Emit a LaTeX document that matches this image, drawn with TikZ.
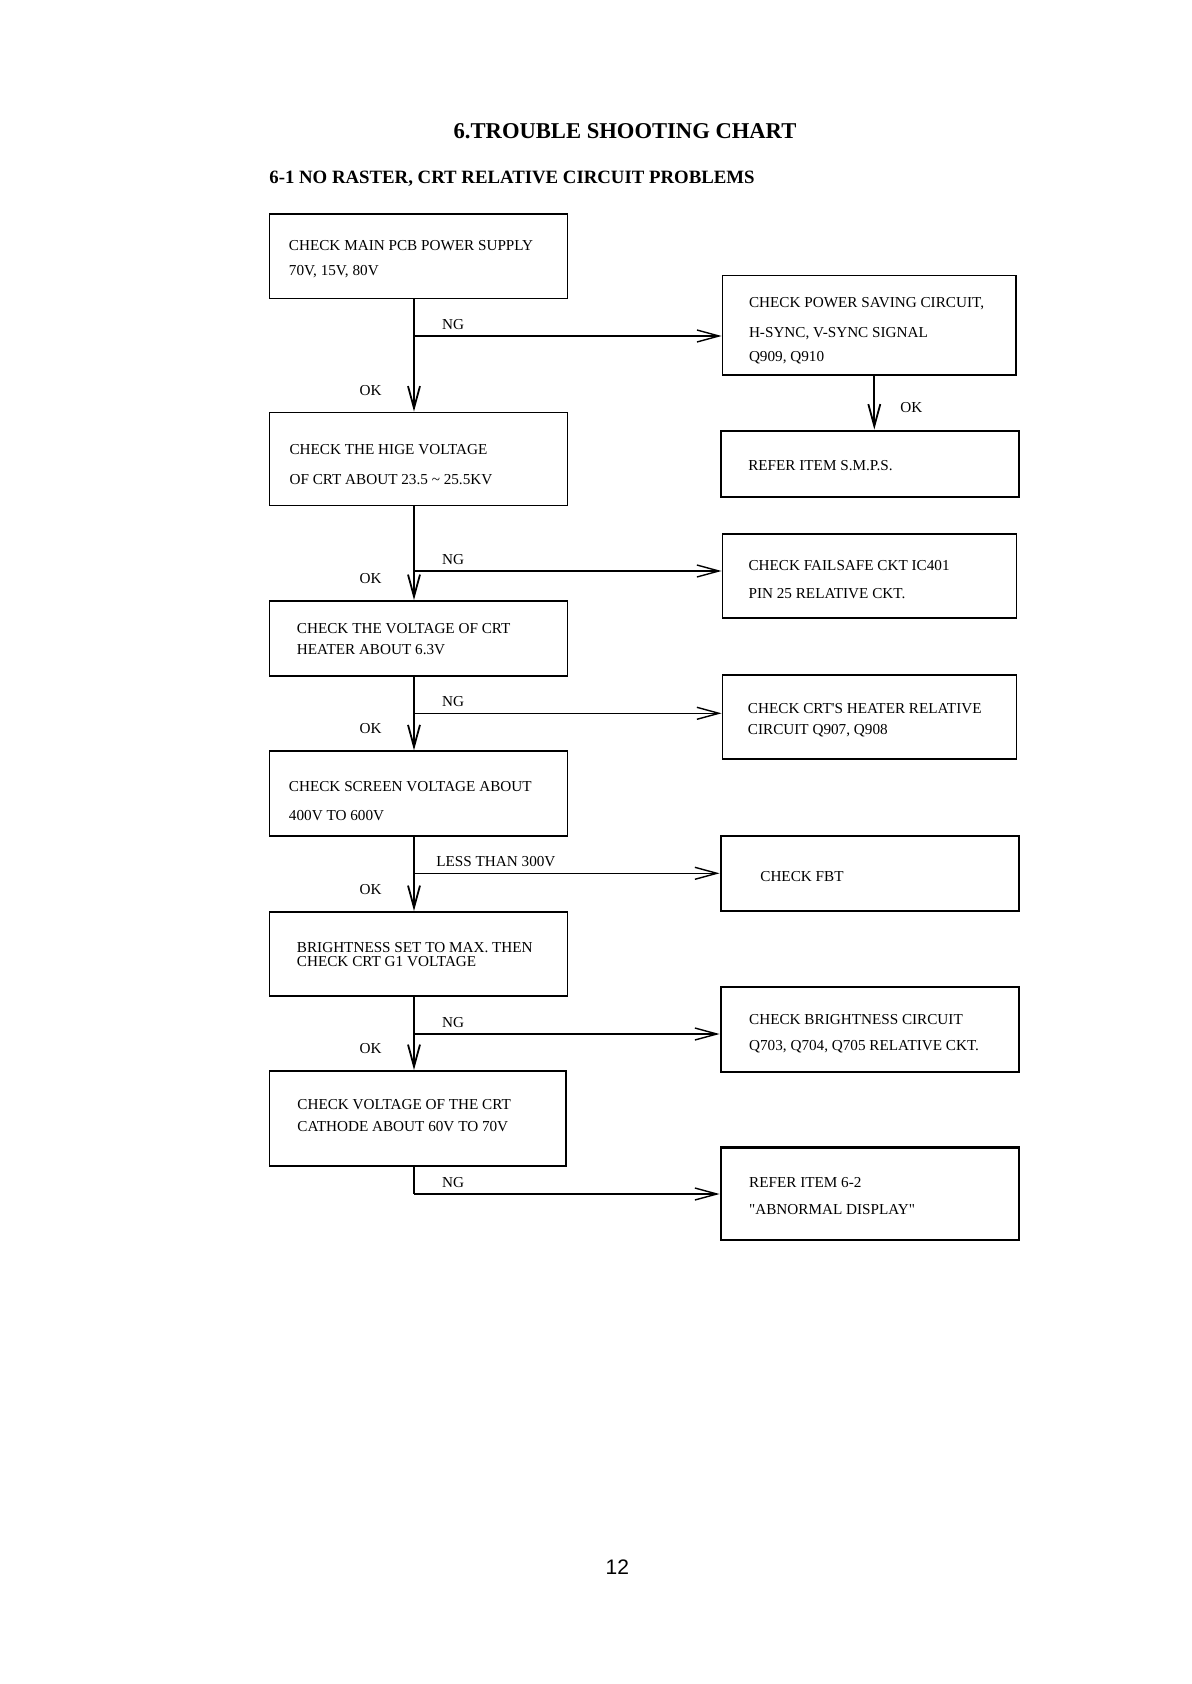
\documentclass[tikz,border=0pt]{standalone}
\usepackage{fontspec}
\setmainfont{Liberation Serif}
\newfontfamily\pagefont{Liberation Sans}
\usetikzlibrary{arrows.meta}
\usetikzlibrary{calc,positioning}

\tikzset{
	box/.style={draw, line width=0.75pt, inner sep=0pt, minimum width=149pt},
	thickbox/.style={box, line width=1.15pt},
	txt/.style={inner sep=0pt, align=left, font=\fontsize{7.6}{9}\selectfont},
	lbl/.style={inner sep=0pt, font=\fontsize{7.6}{9}\selectfont},
	flow/.style={line width=0.7pt, -{Straight Barb[length=11pt,width=6pt]}},
	down/.style={flow, line width=0.9pt}
}

\begin{document}
\begin{tikzpicture}[x=0.5pt, y=-0.5pt]
	\useasboundingbox (0,0) rectangle (1191,1684);
	
	% titles
	\node[inner sep=0pt, anchor=base, font=\fontsize{11.3}{13}\selectfont\bfseries] (title) at (625,139) {6.TROUBLE SHOOTING CHART};
	\node[inner sep=0pt, anchor=base west, font=\fontsize{9.4}{11}\selectfont\bfseries] (subtitle) at (269,183.3) {6-1 NO RASTER, CRT RELATIVE CIRCUIT PROBLEMS};
	
	% left column
	\node[box, minimum height=42.15pt] (b1) at (418.3,256.2) {};
	\node[box, minimum height=46.7pt] (b2) at (418.3,459) {};
	\node[box, minimum height=37.65pt] (b3) at (418.3,638.4) {};
	\node[box, minimum height=42.35pt] (b4) at (418.3,793.4) {};
	\node[box, minimum height=42.15pt] (b5) at (418.3,953.9) {};
	\node[box, minimum width=148.35pt, minimum height=47.65pt] (b6) at (417.7,1118.4) {};
	
	\node[txt, right=10pt of b1.west, yshift=-1.6pt] (b1t) {CHECK MAIN PCB POWER SUPPLY\\[3.35pt]70V, 15V, 80V};
	\node[txt, right=10.3pt of b2.west, yshift=-2.7pt] (b2t) {CHECK THE HIGE VOLTAGE\\[5.85pt]OF CRT ABOUT 23.5 \textasciitilde{} 25.5KV};
	\node[txt, right=14pt of b3.west, yshift=-0.3pt] (b3t) {CHECK THE VOLTAGE OF CRT\\[1.3pt]HEATER ABOUT 6.3V};
	\node[txt, right=10pt of b4.west, yshift=-3.8pt] (b4t) {CHECK SCREEN VOLTAGE ABOUT\\[5.5pt]400V TO 600V};
	\node[txt, right=14pt of b5.west, yshift=-0.4pt] (b5t) {BRIGHTNESS SET TO MAX. THEN\\[-1.8pt]CHECK CRT G1 VOLTAGE};
	\node[txt, right=14.2pt of b6.west, yshift=1.3pt] (b6t) {CHECK VOLTAGE OF THE CRT\\[1.85pt]CATHODE ABOUT 60V TO 70V};
	
	% right column
	\node[box, minimum width=146.85pt, minimum height=49.65pt] (r1) at (869.2,325.4) {};
	\node[thickbox, minimum height=33pt] (r2) at (870,463.7) {};
	\node[box, minimum width=147.2pt, minimum height=41.85pt] (r3) at (869.5,575.9) {};
	\node[box, minimum width=147.2pt, minimum height=42pt] (r4) at (869.5,717) {};
	\node[thickbox, minimum width=149.3pt, minimum height=37.35pt] (r5) at (870,873.4) {};
	\node[thickbox, minimum width=149.3pt, minimum height=42.5pt] (r6) at (870,1029.2) {};
	\node[thickbox, minimum width=149.3pt, minimum height=46.35pt] (r7) at (870,1193.7) {};
	
	\node[txt, right=13.5pt of r1.west, yshift=-2.7pt] (r1t) {CHECK POWER SAVING CIRCUIT,\\[5.7pt]H-SYNC, V-SYNC SIGNAL\\[3pt]Q909, Q910};
	\node[txt, right=14pt of r2.west, yshift=-1.1pt] (r2t) {REFER ITEM S.M.P.S.};
	\node[txt, right=13.3pt of r3.west, yshift=-1.9pt] (r3t) {CHECK FAILSAFE CKT IC401\\[5.15pt]PIN 25 RELATIVE CKT.};
	\node[txt, right=13pt of r4.west, yshift=-1.6pt] (r4t) {CHECK CRT\textquotesingle S HEATER RELATIVE\\[1.85pt]CIRCUIT Q907, Q908};
	\node[txt, right=20.2pt of r5.west, yshift=-1.6pt] (r5t) {CHECK FBT};
	\node[txt, right=14.6pt of r6.west, yshift=-2.2pt] (r6t) {CHECK BRIGHTNESS CIRCUIT\\[4pt]Q703, Q704, Q705 RELATIVE CKT.};
	\node[txt, right=14.6pt of r7.west, yshift=-1.1pt] (r7t) {REFER ITEM 6-2\\[4.3pt]\textquotedbl ABNORMAL DISPLAY\textquotedbl};
	
	% spine and branch points
	\coordinate (spine) at (414,0);
	\coordinate (rx) at (874.3,0);
	\coordinate (j1) at (414,336);
	\coordinate (j2) at (414,571);
	\coordinate (j3) at (414,713.3);
	\coordinate (j4) at (414,873.3);
	\coordinate (j5) at (414,1034);
	\coordinate (j6) at (414,1194);
	
	% OK path down
	\draw[down] (b1.south -| spine) -- (b2.north -| spine);
	\draw[down] (b2.south -| spine) -- (b3.north -| spine);
	\draw[down] (b3.south -| spine) -- (b4.north -| spine);
	\draw[down] (b4.south -| spine) -- (b5.north -| spine);
	\draw[down] (b5.south -| spine) -- (b6.north -| spine);
	\draw[down] (r1.south -| rx) -- (r2.north -| rx);
	
	% NG branches
	\draw[flow] (j1) -- (j1 -| r1.west);
	\draw[flow] (j2) -- (j2 -| r3.west);
	\draw[flow] (j3) -- (j3 -| r4.west);
	\draw[flow] (j4) -- (j4 -| r5.west);
	\draw[flow] (j5) -- (j5 -| r6.west);
	\draw[line width=0.9pt] (b6.south -| spine) -- (j6);
	\draw[flow] (j6) -- (j6 -| r7.west);
	
	% labels
	\node[lbl, anchor=base west] (ng1) at ($(j1)+(13.85pt,3.35pt)$) {NG};
	\node[lbl, anchor=base west] (ng2) at ($(j2)+(13.85pt,3.35pt)$) {NG};
	\node[lbl, anchor=base west] (ng3) at ($(j3)+(13.85pt,3.35pt)$) {NG};
	\node[lbl, anchor=base west] (less) at ($(j4)+(11pt,3.35pt)$) {LESS THAN 300V};
	\node[lbl, anchor=base west] (ng5) at ($(j5)+(13.85pt,3.35pt)$) {NG};
	\node[lbl, anchor=base west] (ng6) at ($(j6)+(13.85pt,3.35pt)$) {NG};
	\node[lbl, anchor=base east] (ok1) at ($(b2.north -| spine)+(-16pt,8.2pt)$) {OK};
	\node[lbl, anchor=base east] (ok2) at ($(b3.north -| spine)+(-16pt,8.2pt)$) {OK};
	\node[lbl, anchor=base east] (ok3) at ($(b4.north -| spine)+(-16pt,8.2pt)$) {OK};
	\node[lbl, anchor=base east] (ok4) at ($(b5.north -| spine)+(-16pt,8.2pt)$) {OK};
	\node[lbl, anchor=base east] (ok5) at ($(b6.north -| spine)+(-16pt,8.2pt)$) {OK};
	\node[lbl, anchor=base west] (okr) at ($(r2.north -| rx)+(12.85pt,8.35pt)$) {OK};
	
	% page number
	\node[inner sep=0pt, font=\fontsize{10.5}{12}\pagefont] (page) at (617.3,1566.7) {12};
\end{tikzpicture}
\end{document}
